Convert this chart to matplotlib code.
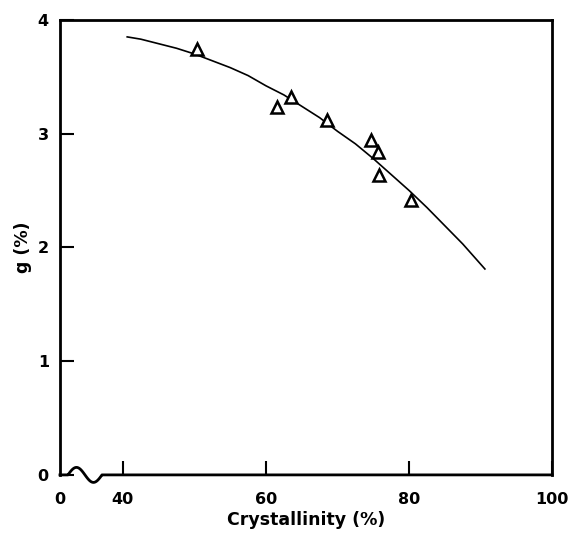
import matplotlib.pyplot as plt
import numpy as np

# measured points (crystallinity %, g %)
cryst = [50.3, 61.5, 63.5, 68.5, 74.7, 75.7, 75.8, 80.3]
g_val = [3.74, 3.23, 3.32, 3.12, 2.945, 2.84, 2.64, 2.42]

# fitted curve
curve_x = [40.6, 42.5, 45, 47.5, 50, 52.5, 55, 57.5, 60, 62.5, 65, 67.5,
           70, 72.5, 75, 77.5, 80, 82.5, 85, 87.5, 90.6]
curve_y = [3.85, 3.83, 3.79, 3.75, 3.70, 3.64, 3.58, 3.51, 3.42, 3.34,
           3.24, 3.14, 3.02, 2.91, 2.78, 2.64, 2.50, 2.35, 2.19, 2.03, 1.81]

xticks = [31.2, 40, 60, 80, 100]
xtick_labels = ['0', '40', '60', '80', '100']
yticks = [0, 1, 2, 3, 4]

plt.rcParams['font.family'] = 'DejaVu Sans'
plt.rcParams['font.weight'] = 'bold'

fig = plt.figure(figsize=(5.71, 5.36), dpi=100)
ax = fig.add_axes([0.105, 0.114, 0.862, 0.849])

ax.plot(curve_x, curve_y, color='black', lw=1.2)
ax.plot(cryst, g_val, linestyle='none', marker='^', markersize=9,
        markerfacecolor='white', markeredgecolor='black', markeredgewidth=1.8)

ax.set_xlim(31.2, 100)
ax.set_ylim(0, 4)
ax.set_xticks(xticks)
ax.set_xticklabels(xtick_labels)
ax.set_yticks(yticks)

ax.tick_params(direction='in', length=10, width=1.5, labelsize=11.5)
ax.tick_params(axis='x', pad=12)
ax.tick_params(axis='y', pad=8)
ax.xaxis.get_major_ticks()[0].tick1line.set_visible(False)

for side in ['left', 'top', 'right']:
    ax.spines[side].set_linewidth(2)
ax.spines['bottom'].set_visible(False)

# bottom axis with the break squiggle (up first, then down)
w_px = 492.0
h_px = 455.0
sx = np.linspace(8, 42, 60)
sy = 7.5 * np.sin((sx - 8) / 34 * 2 * np.pi)
bx = np.concatenate([[0], sx, [w_px]]) / w_px
by = np.concatenate([[0], sy, [0]]) / h_px
ax.plot(bx, by, color='black', lw=2, transform=ax.transAxes, clip_on=False)

ax.set_xlabel('Crystallinity (%)', fontsize=12.5, fontweight='bold', labelpad=3)
ax.set_ylabel('g (%)', fontsize=12.5, fontweight='bold', labelpad=4)

fig.savefig('out.png', dpi=100)
